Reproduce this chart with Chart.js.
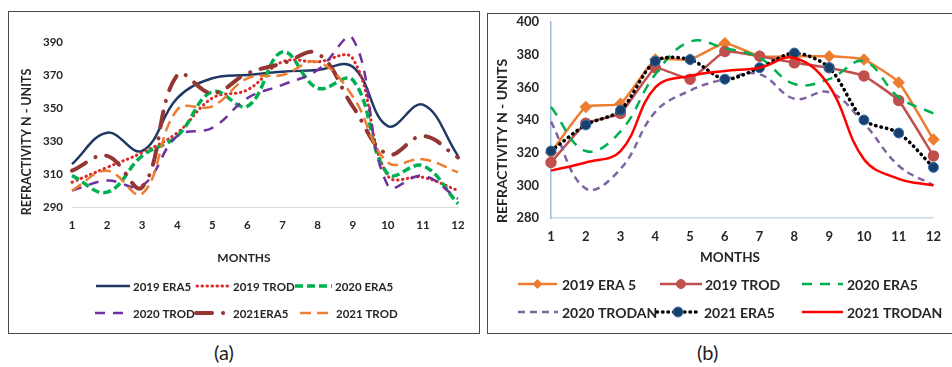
<!DOCTYPE html>
<html>
<head>
<meta charset="utf-8">
<script src="https://cdn.jsdelivr.net/npm/chart.js@4.4.1/dist/chart.umd.min.js"></script>
<style>
  body { margin: 0; background: #fff; width: 952px; height: 367px; overflow: hidden; position: relative; font-family: Lato, sans-serif; }
  canvas { position: absolute; left: 0; top: 0; }
  .panel { position: absolute; border: 1.5px solid #4a4a4a; box-sizing: border-box; }
  .cap { position: absolute; font-size: 20px; color: #222; line-height: 24px; }
</style>
</head>
<body>
<div class="panel" style="left:8px;top:11px;width:472px;height:323px"></div>
<div class="panel" style="left:487px;top:13px;width:480px;height:321px"></div>
<div class="cap" style="left:214px;top:340px">(a)</div>
<div class="cap" style="left:697px;top:340px">(b)</div>
<canvas id="chart-a" width="952" height="367"></canvas>
<canvas id="chart-b" width="952" height="367"></canvas>
<script>
var months = ["1", "2", "3", "4", "5", "6", "7", "8", "9", "10", "11", "12"];

// panel (a)
var era5_2019a = [316, 335, 324, 356, 368, 370, 372, 373, 375, 339, 352, 321];
var trod_2019a = [305, 314, 323, 335, 356, 361, 378, 378, 380, 309, 308, 300];
var era5_2020a = [309, 299, 321, 333, 360, 351, 384, 362, 367, 310, 315, 292];
var trod_2020a = [300, 306, 303, 333, 338, 356, 364, 373, 392, 303, 309, 295];
var era5_2021a = [312, 321, 302, 370, 359, 371, 377, 383, 351, 322, 333, 320];
var trod_2021a = [300, 312, 298, 349, 351, 368, 370, 378, 357, 317, 319, 311];
var labelsA = ["2019 ERA5", "2019 TROD", "2020 ERA5", "2020 TROD", "2021ERA5", "2021 TROD"];

// panel (b)
var era5_2019b = [320, 348, 350, 377, 377, 387, 379, 379, 379, 377, 363, 328];
var trod_2019b = [314, 338, 344, 372, 365, 382, 379, 375, 372, 367, 352, 318];
var era5_2020b = [348, 321, 333, 368, 388, 384, 378, 362, 365, 376, 354, 344];
var trodan_2020b = [339, 298, 310, 345, 358, 365, 368, 353, 357, 338, 312, 300];
var era5_2021b = [321, 337, 346, 376, 377, 365, 372, 381, 372, 340, 332, 311];
var trodan_2021b = [309, 314, 321, 360, 367, 370, 372, 378, 361, 316, 304, 300];
var labelsB = ["2019 ERA 5", "2019 TROD", "2020 ERA5", "2020 TRODAN", "2021 ERA5", "2021 TRODAN"];

var textColor = "#262626";
Chart.defaults.font.family = "Lato";

function drawMarker(ctx, ds, x, y) {
  if (!ds.pointRadius) return;
  var r = ds.pointRadius;
  ctx.save();
  ctx.setLineDash([]);
  ctx.fillStyle = ds.pointBackgroundColor;
  ctx.strokeStyle = ds.pointBorderColor;
  ctx.lineWidth = ds.pointBorderWidth || 1;
  ctx.beginPath();
  if (ds.pointStyle === "rectRot") {
    ctx.moveTo(x, y - r);
    ctx.lineTo(x + r, y);
    ctx.lineTo(x, y + r);
    ctx.lineTo(x - r, y);
    ctx.closePath();
  } else {
    ctx.arc(x, y, r, 0, Math.PI * 2);
  }
  ctx.fill();
  ctx.stroke();
  ctx.restore();
}

// axis titles + legend drawn by hand so the rows sit where they do in the figure
var extrasPlugin = {
  id: "extras",
  afterDraw: function (chart, args, opts) {
    var ctx = chart.ctx;
    ctx.save();
    ctx.fillStyle = textColor;
    ctx.textBaseline = "middle";
    ctx.textAlign = "center";
    ctx.font = "bold " + opts.xTitle.size + "px Lato";
    ctx.fillText("MONTHS", opts.xTitle.x, opts.xTitle.y);
    ctx.save();
    ctx.translate(opts.yTitle.x, opts.yTitle.y);
    ctx.rotate(-Math.PI / 2);
    ctx.font = "bold " + opts.yTitle.size + "px Lato";
    ctx.fillText("REFRACTIVITY N - UNITS", 0, 0);
    ctx.restore();

    ctx.textAlign = "left";
    ctx.font = "bold " + opts.legendSize + "px Lato";
    opts.legend.forEach(function (item, i) {
      var ds = chart.data.datasets[i];
      ctx.save();
      ctx.strokeStyle = ds.borderColor;
      ctx.lineWidth = ds.borderWidth;
      ctx.lineCap = ds.borderCapStyle || "butt";
      ctx.setLineDash(ds.borderDash || []);
      ctx.beginPath();
      ctx.moveTo(item.x, item.y);
      ctx.lineTo(item.x + item.w, item.y);
      ctx.stroke();
      ctx.restore();
      drawMarker(ctx, ds, item.x + item.w / 2, item.y);
      ctx.fillStyle = textColor;
      ctx.fillText(ds.label, item.tx, item.y + 1);
    });
    ctx.restore();
  },
};

function lineSet(label, data, order, style) {
  var ds = {
    label: label,
    data: data,
    order: order,
    fill: false,
    pointRadius: 0,
    tension: 0.4,
    capBezierPoints: false,
    clip: false,
  };
  Object.keys(style).forEach(function (k) {
    ds[k] = style[k];
  });
  return ds;
}

var chartA = new Chart(document.getElementById("chart-a"), {
  type: "line",
  data: {
    labels: months,
    datasets: [
      lineSet(labelsA[0], era5_2019a, 6, { borderColor: "#1f3864", borderWidth: 2.5 }),
      lineSet(labelsA[1], trod_2019a, 5, { borderColor: "#dc2a2a", borderWidth: 3, borderDash: [0.5, 4.5], borderCapStyle: "round" }),
      lineSet(labelsA[2], era5_2020a, 4, { borderColor: "#00b050", borderWidth: 3.5, borderDash: [8, 4] }),
      lineSet(labelsA[3], trod_2020a, 3, { borderColor: "#7030a0", borderWidth: 2.5, borderDash: [10, 8] }),
      lineSet(labelsA[4], era5_2021a, 2, { borderColor: "#943634", borderWidth: 4, borderDash: [16, 11, 0.1, 11], borderCapStyle: "round" }),
      lineSet(labelsA[5], trod_2021a, 1, { borderColor: "#ed7d31", borderWidth: 2.5, borderDash: [11, 6] }),
    ],
  },
  options: {
    responsive: false,
    animation: false,
    layout: { padding: { left: 9, right: 494, top: 42, bottom: 0 } },
    plugins: {
      legend: { display: false },
      tooltip: { enabled: false },
      extras: {
        xTitle: { x: 244, y: 258, size: 12 },
        yTitle: { x: 27, y: 142, size: 12.5 },
        legendSize: 11.5,
        legend: [
          { x: 96, w: 34, tx: 133, y: 286 },
          { x: 197, w: 33, tx: 233, y: 286 },
          { x: 295, w: 37, tx: 335, y: 286 },
          { x: 95, w: 36, tx: 133, y: 313 },
          { x: 196, w: 32, tx: 233, y: 313 },
          { x: 300, w: 30, tx: 336, y: 313 },
        ],
      },
    },
    scales: {
      x: {
        offset: false,
        grid: { display: false, drawTicks: false },
        border: { display: true, color: "#d9d9d9", width: 1 },
        ticks: { color: textColor, padding: 11, maxRotation: 0, autoSkip: false, font: { size: 11.5, weight: "bold" } },
        afterFit: function (scale) {
          scale.height = 160;
        },
      },
      y: {
        min: 290,
        max: 390,
        grid: { display: false, drawTicks: false },
        border: { display: false },
        ticks: { stepSize: 20, color: textColor, padding: 9, font: { size: 11.5, weight: "bold" } },
        afterFit: function (scale) {
          scale.width = 63;
        },
      },
    },
  },
  plugins: [extrasPlugin],
});

var chartB = new Chart(document.getElementById("chart-b"), {
  type: "line",
  data: {
    labels: months,
    datasets: [
      lineSet(labelsB[0], era5_2019b, 6, { borderColor: "#ed7d31", borderWidth: 2.5, tension: 0.15, pointStyle: "rectRot", pointRadius: 4.5, pointBackgroundColor: "#ed7d31", pointBorderColor: "#ed7d31" }),
      lineSet(labelsB[1], trod_2019b, 5, { borderColor: "#c0504d", borderWidth: 2.5, tension: 0.1, pointStyle: "circle", pointRadius: 4.5, pointBackgroundColor: "#c0504d", pointBorderColor: "#c0504d" }),
      lineSet(labelsB[2], era5_2020b, 4, { borderColor: "#00b050", borderWidth: 2.5, borderDash: [10, 8] }),
      lineSet(labelsB[3], trodan_2020b, 3, { borderColor: "#8064a2", borderWidth: 2.5, borderDash: [7, 5] }),
      lineSet(labelsB[4], era5_2021b, 2, { borderColor: "#000000", borderWidth: 3.5, borderDash: [0.5, 5], borderCapStyle: "round", tension: 0.3, pointStyle: "circle", pointRadius: 5, pointBackgroundColor: "#1a3f6b", pointBorderColor: "#2e75b6", pointBorderWidth: 1 }),
      lineSet(labelsB[5], trodan_2021b, 1, { borderColor: "#ff0000", borderWidth: 2.5 }),
    ],
  },
  options: {
    responsive: false,
    animation: false,
    layout: { padding: { left: 488, right: 9, top: 22, bottom: 0 } },
    plugins: {
      legend: { display: false },
      tooltip: { enabled: false },
      extras: {
        xTitle: { x: 730, y: 258, size: 13.5 },
        yTitle: { x: 502, y: 141, size: 14 },
        legendSize: 14,
        legend: [
          { x: 518, w: 39, tx: 562, y: 284 },
          { x: 660, w: 42, tx: 705, y: 284 },
          { x: 802, w: 41, tx: 847, y: 284 },
          { x: 518, w: 40, tx: 562, y: 312 },
          { x: 657, w: 42, tx: 704, y: 312 },
          { x: 802, w: 41, tx: 847, y: 312 },
        ],
      },
    },
    scales: {
      x: {
        offset: false,
        grid: { display: false, drawTicks: false },
        border: { display: true, color: "#c6d9f0", width: 1.5 },
        ticks: { color: textColor, padding: 11, maxRotation: 0, autoSkip: false, font: { size: 13, weight: "bold" } },
        afterFit: function (scale) {
          scale.height = 149;
        },
      },
      y: {
        min: 280,
        max: 400,
        grid: { display: false, drawTicks: false },
        border: { display: true, color: "#9bbbe0", width: 1.5 },
        ticks: { stepSize: 20, color: textColor, padding: 12, font: { size: 13, weight: "bold" } },
        afterFit: function (scale) {
          scale.width = 63;
        },
      },
    },
  },
  plugins: [extrasPlugin],
});
</script>
</body>
</html>
